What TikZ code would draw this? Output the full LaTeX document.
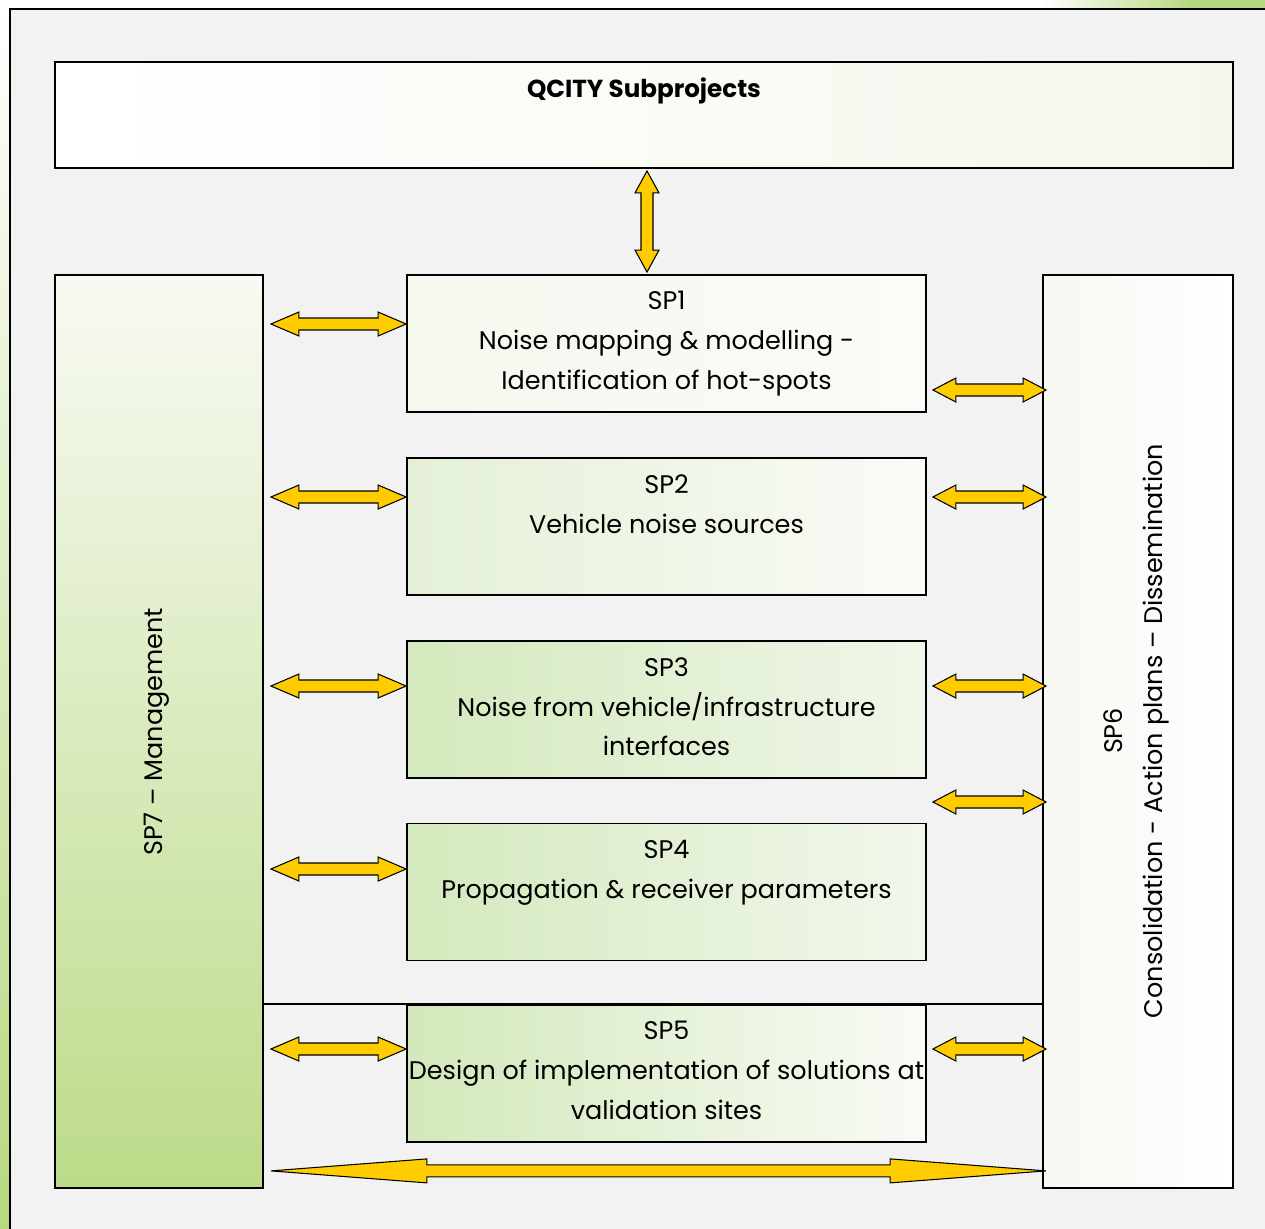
\documentclass[tikz,border=0pt]{standalone}
\usepackage{fontspec}
\setmainfont{Poppins}
\usetikzlibrary{calc,positioning}

\definecolor{framegray}{RGB}{242,242,242}
\definecolor{leafgreen}{RGB}{184,216,128}
\definecolor{titlegreen}{RGB}{244,248,236}
\definecolor{arrowyellow}{RGB}{255,204,0}
\definecolor{sptop}{RGB}{248,250,243}
\definecolor{spbottom}{RGB}{188,219,137}
\definecolor{spsixleft}{RGB}{246,248,242}
\definecolor{spleft1}{RGB}{244,248,238}
\definecolor{spright1}{RGB}{250,252,247}
\definecolor{spleft2}{RGB}{228,240,214}
\definecolor{spright2}{RGB}{250,251,247}
\definecolor{spleft3}{RGB}{212,233,189}
\definecolor{spright3}{RGB}{240,246,233}
\definecolor{spleft4}{RGB}{212,233,189}
\definecolor{spright4}{RGB}{242,247,236}
\definecolor{spleft5}{RGB}{210,232,186}
\definecolor{spright5}{RGB}{249,251,246}

\tikzset{
    frameline/.style={draw=black, line width=1.1pt},
    spbox/.style={frameline, minimum width=10.38cm, minimum height=2.74cm, inner sep=0pt},
    sptext/.style={anchor=north, align=center, inner sep=0pt, font=\fontsize{14.5}{22.7}\selectfont},
    sidetext/.style={rotate=90, align=center, inner sep=0pt, font=\fontsize{14.5}{22.7}\selectfont},
    yarrow/.style={draw=black, fill=arrowyellow, line width=0.6pt}
}

\begin{document}
\begin{tikzpicture}[x=0.02cm, y=-0.02cm]
        \useasboundingbox (0,0) rectangle (1265,1228);
        \clip (0,0) rectangle (1265,1228);
        % Double block arrow: from, to, head length
        \newcommand{\dblarrow}[3]{%
            \draw[yarrow] (#1)
                -- ($(#1)!#3!(#2)!0.24cm!90:(#2)$)
                -- ($(#1)!#3!(#2)!0.12cm!90:(#2)$)
                -- ($(#2)!#3!(#1)!0.12cm!-90:(#1)$)
                -- ($(#2)!#3!(#1)!0.24cm!-90:(#1)$)
                -- (#2)
                -- ($(#2)!#3!(#1)!0.24cm!90:(#1)$)
                -- ($(#2)!#3!(#1)!0.12cm!90:(#1)$)
                -- ($(#1)!#3!(#2)!0.12cm!-90:(#2)$)
                -- ($(#1)!#3!(#2)!0.24cm!-90:(#2)$)
                -- cycle;
        }
        % Page edges
        \fill[top color=white, bottom color=leafgreen] (0,0) rectangle (10,1228);
        \fill[left color=white, right color=leafgreen] (1040,0) rectangle (1190,9);
        \fill[leafgreen] (1190,0) rectangle (1265,9);
        \draw[frameline, fill=framegray] (10,9) rectangle (1280,1240);
        % Title
        \node[frameline, minimum width=23.56cm, minimum height=2.12cm,
            left color=white, middle color=white, right color=titlegreen] (title) at (644,115) {};
        \node[anchor=north, inner sep=0pt, font=\bfseries\fontsize{14}{21}\selectfont]
            (title-text) at ($(title.north)+(0,16)$) {QCITY Subprojects};
        % Management
        \node[frameline, minimum width=4.16cm, minimum height=18.26cm,
            top color=sptop, bottom color=spbottom] (SP7) at (159,731.5) {};
        \node[sidetext] (SP7-text) at (157,732) {SP7 – Management};
        % Consolidation
        \node[frameline, minimum width=3.8cm, minimum height=18.26cm,
            left color=spsixleft, right color=white] (SP6) at (1138,731.5) {};
        \node[sidetext] (SP6-text) at (1136,731)
            {SP6\\Consolidation - Action plans – Dissemination};
        % Subprojects
        \foreach \i/\y/\txt in {
            1/343.5/{SP1\\Noise mapping \& modelling -\\Identification of hot-spots},
            2/526.5/{SP2\\Vehicle noise sources},
            3/709.5/{SP3\\Noise from vehicle/infrastructure\\interfaces},
            4/892/{SP4\\Propagation \& receiver parameters},
            5/1073.5/{SP5\\Design of implementation of solutions at\\validation sites}} {
            \node[spbox, left color=spleft\i, right color=spright\i] (SP\i) at (666.5,\y) {};
            \node[sptext] (SP\i-text) at ($(SP\i.north)+(0,17)$) {\txt};
        }
        \draw[frameline] (SP7.east |- SP5.north) -- (SP6.west |- SP5.north);
        % Arrows to management
        \foreach \i/\dy in {1/-19.5,2/-29.5,3/-23.5,4/-23,5/-24.5} {
            \path (SP\i.west) ++(0,\dy) coordinate (left-\i-b);
            \path (SP7.east |- left-\i-b) ++(7,0) coordinate (left-\i-a);
            \dblarrow{left-\i-a}{left-\i-b}{0.56cm}
        }
        % Arrows to consolidation
        \foreach \i/\dy in {1/46.5,2/-29.5,3/-23.5,4/-90,5/-24.5} {
            \path (SP\i.east) ++(6,\dy) coordinate (right-\i-a);
            \path (SP6.west |- right-\i-a) ++(4,0) coordinate (right-\i-b);
            \dblarrow{right-\i-a}{right-\i-b}{0.46cm}
        }
        % Title arrow
        \path (title.south) ++(3,2) coordinate (top-a);
        \path (top-a |- SP1.north) ++(0,-2) coordinate (top-b);
        \dblarrow{top-a}{top-b}{0.44cm}
        % Management to consolidation
        \path (SP7.south east) ++(7,-18) coordinate (bottom-a);
        \path (SP6.south west) ++(4,-18) coordinate (bottom-b);
        \dblarrow{bottom-a}{bottom-b}{3.12cm}
    \end{tikzpicture}
\end{document}
